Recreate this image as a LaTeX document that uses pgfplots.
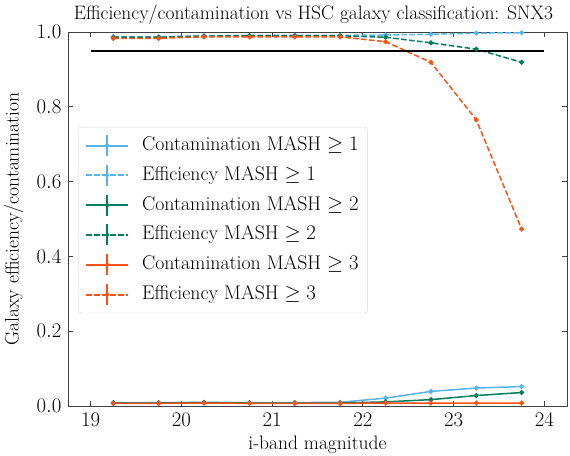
\documentclass[border=0pt]{standalone}
\usepackage{pgfplots}
\pgfplotsset{compat=1.18}
\definecolor{cblue}{RGB}{86,180,233}
\definecolor{cgreen}{RGB}{0,125,92}
\definecolor{corange}{RGB}{255,80,20}
\begin{document}
\fontsize{19.5}{23}\selectfont
\begin{tikzpicture}
\begin{axis}[
  scale only axis,
  width=499pt, height=374pt,
  xmin=18.75, xmax=24.25, ymin=0, ymax=1,
  xtick={19,20,21,22,23,24},
  ytick={0,0.2,0.4,0.6,0.8,1.0},
  yticklabel style={/pgf/number format/.cd,fixed,fixed zerofill,precision=1},
  tick align=inside, tick pos=both, major tick length=5pt,
  minor tick num=0,
  axis line style={black!75, line width=0.8pt},
  every tick/.style={black!75, line width=0.8pt},
  title={Efficiency/contamination vs HSC galaxy classification: SNX3},
  title style={yshift=-5pt, xshift=-4pt},
  xlabel={i-band magnitude},
  ylabel={Galaxy efficiency/contamination},
  xlabel style={yshift=3pt},
  ylabel style={yshift=0pt},
  every axis plot/.append style={line width=1.5pt, mark=*, mark size=1.7pt},
  legend style={at={(0.02,0.746)}, anchor=north west, draw=black!15, rounded corners=3pt,
    inner xsep=7pt, inner ysep=7pt, row sep=7pt, font=\fontsize{19.8}{24}\selectfont,
    nodes={inner sep=2pt, text height=14pt, text depth=4pt, anchor=west}},
  legend cell align=left,
  legend image code/.code={
    \draw[#1, mark=none, line width=2pt] (0pt,0pt) -- (42pt,0pt);
    \draw[#1, solid, mark=none, line width=1.8pt] (21pt,-10.5pt) -- (21pt,10.5pt);
    \fill[#1] (21pt,0pt) circle (1.6pt);
  },
  /tikz/every odd column/.append style={column sep=11pt},
]
\coordinate (sw) at (rel axis cs:0,0);
\addplot[cblue, solid, mark options={solid}] coordinates {
(19.25,0.009)(19.75,0.009)(20.25,0.010)(20.75,0.009)(21.25,0.009)(21.75,0.010)(22.25,0.021)(22.75,0.039)(23.25,0.048)(23.75,0.052)};
\addlegendentry{Contamination MASH $\geq 1$}
\addplot[cblue, dash pattern=on 5.5pt off 2.5pt, mark options={solid}] coordinates {
(19.25,0.987)(19.75,0.987)(20.25,0.990)(20.75,0.991)(21.25,0.991)(21.75,0.991)(22.25,0.992)(22.75,0.994)(23.25,0.997)(23.75,0.998)};
\addlegendentry{Efficiency MASH $\geq 1$}
\addplot[cgreen, solid, mark options={solid}] coordinates {
(19.25,0.008)(19.75,0.008)(20.25,0.009)(20.75,0.008)(21.25,0.008)(21.75,0.008)(22.25,0.011)(22.75,0.017)(23.25,0.028)(23.75,0.036)};
\addlegendentry{Contamination MASH $\geq 2$}
\addplot[cgreen, dash pattern=on 5.5pt off 2.5pt, mark options={solid}] coordinates {
(19.25,0.986)(19.75,0.986)(20.25,0.989)(20.75,0.990)(21.25,0.990)(21.75,0.990)(22.25,0.986)(22.75,0.971)(23.25,0.954)(23.75,0.919)};
\addlegendentry{Efficiency MASH $\geq 2$}
\addplot[corange, solid, mark options={solid}] coordinates {
(19.25,0.007)(19.75,0.007)(20.25,0.008)(20.75,0.007)(21.25,0.007)(21.75,0.007)(22.25,0.008)(22.75,0.008)(23.25,0.008)(23.75,0.008)};
\addlegendentry{Contamination MASH $\geq 3$}
\addplot[corange, dash pattern=on 5.5pt off 2.5pt, mark options={solid}] coordinates {
(19.25,0.983)(19.75,0.983)(20.25,0.987)(20.75,0.987)(21.25,0.987)(21.75,0.987)(22.25,0.974)(22.75,0.919)(23.25,0.765)(23.75,0.473)};
\addlegendentry{Efficiency MASH $\geq 3$}
\addplot[black, solid, line width=1.8pt, mark=none, forget plot] coordinates {(19,0.95)(24,0.95)};
\end{axis}
\pgfresetboundingbox
\path (sw) ++(-68pt,-49pt) rectangle ++(570pt,455pt);
\end{tikzpicture}
\end{document}
